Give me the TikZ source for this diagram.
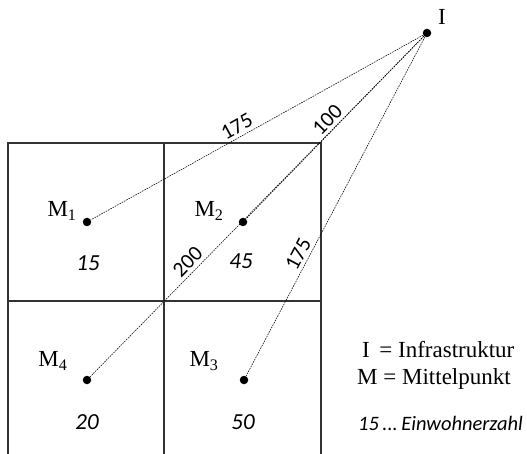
\documentclass[tikz,border=0pt]{standalone}
\usepackage{fontspec}
\setmainfont{Liberation Serif}
\newfontfamily\numfont{Carlito}
\usetikzlibrary{positioning}

\begin{document}
\begin{tikzpicture}[x=1pt,y=-1pt,
      raster/.style={line width=1.3pt,draw=black!80},
      link/.style={dash pattern=on 1.6pt off 1pt,line width=0.55pt},
      spot/.style={circle,fill=black,inner sep=0pt,minimum size=8.5pt},
      mlabel/.style={font=\fontsize{23}{26}\selectfont},
      pop/.style={font=\numfont\itshape\fontsize{23}{26}\selectfont},
      dist/.style={font=\numfont\fontsize{21.5}{24}\selectfont,sloped,above,inner sep=3.5pt},
      legend/.style={anchor=west,inner sep=0pt}
]
\useasboundingbox (0,0) rectangle (527,454);
% Raster
\draw[raster] (8,454) -- (8,143) -- (321,143) -- (321,454);
\draw[raster] (164,143) -- (164,454);
\draw[raster] (8,301) -- (321,301);
% Punkte
\node[spot] (I) at (427,33) {};
\node[spot] (m1) at (87,222) {};
\node[spot] (m2) at (243,222) {};
\node[spot] (m3) at (244,380) {};
\node[spot] (m4) at (87,380) {};
\node[mlabel] (Ilab) at (442,17) {I};
\node[mlabel] (m1lab) at (62,211) {M\textsubscript{1}};
\node[mlabel] (m2lab) at (209,211) {M\textsubscript{2}};
\node[mlabel] (m3lab) at (204,361) {M\textsubscript{3}};
\node[mlabel] (m4lab) at (53,361) {M\textsubscript{4}};
\node[pop] (c1) at (88,263) {15};
\node[pop] (c2) at (241,261) {45};
\node[pop] (c3) at (243,422) {50};
\node[pop] (c4) at (87,422) {20};
% Entfernungen
\draw[link] (I) -- node[dist,pos=0.545] {175} (m1);
\draw[link] (I) -- node[dist,pos=0.5] {100} (m2);
\draw[link] (I) -- node[dist,pos=0.685] {200} (m4);
\draw[link] (I) -- node[dist,pos=0.655] {175} (m3);
% Legende
\node[legend,font=\fontsize{23}{26}\selectfont] (leg1) at (362,350) {I\, = Infrastruktur};
\node[legend,font=\fontsize{23}{26}\selectfont] (leg2) at (357,379) {M = Mittelpunkt};
\node[legend,font=\numfont\itshape\fontsize{20.5}{24}\selectfont] (leg3) at (358,423) {15\,...\,Einwohnerzahl};
\end{tikzpicture}
\end{document}
